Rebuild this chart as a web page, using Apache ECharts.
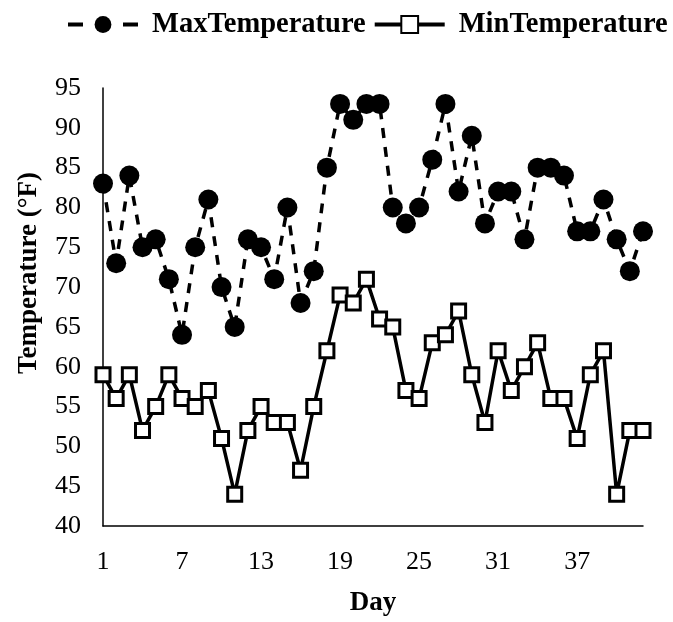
<!DOCTYPE html>
<html><head><meta charset="utf-8">
<script src="https://cdn.jsdelivr.net/npm/echarts@6/dist/echarts.min.js"></script>
<style>html,body{margin:0;padding:0;background:#fff}#c{width:673px;height:622px}</style>
</head><body><div id="c"></div>
<script>
const days = Array.from({length:42},(_,i)=>String(i+1));
const maxTemp = [83,73,84,75,76,71,64,75,81,70,65,76,75,71,80,68,72,85,93,91,93,93,80,78,80,86,93,82,89,78,82,82,76,85,85,84,77,77,81,76,72,77];
const minTemp = [59,56,59,52,55,59,56,55,57,51,44,52,55,53,53,47,55,62,69,68,71,66,65,57,56,63,64,67,59,53,62,57,60,63,56,56,51,59,62,44,52,52];
const font = 'Liberation Serif, Times New Roman, serif';
const chart = echarts.init(document.getElementById('c'));
chart.setOption({
  animation:false,
  legend:{
    top:10, left:66, width:607, padding:0, itemGap:7, itemWidth:70, itemHeight:21,
    textStyle:{fontFamily:font, fontWeight:'bold', fontSize:28.5, color:'#000', padding:[0,0,0,9]},
    data:[
      {name:'MaxTemperature', lineStyle:{type:[15,40], width:4}},
      {name:'MinTemperature', lineStyle:{width:4}}
    ]
  },
  grid:{left:103, right:30, top:88, bottom:88},
  xAxis:{
    type:'category', data:days, boundaryGap:false,
    name:'Day', nameLocation:'middle', nameGap:64,
    nameTextStyle:{fontFamily:font, fontWeight:'bold', fontSize:27, color:'#000'},
    axisLine:{lineStyle:{color:'#000', width:1.5}},
    axisTick:{show:false},
    axisLabel:{interval:5, fontFamily:font, fontSize:26, color:'#000', margin:23},
    splitLine:{show:false}
  },
  yAxis:{
    type:'value', min:40, max:95, interval:5,
    name:'Temperature (°F)', nameLocation:'middle', nameGap:60,
    nameTextStyle:{fontFamily:font, fontWeight:'bold', fontSize:27, color:'#000', padding:[0,0,0,68]},
    axisLine:{show:true, lineStyle:{color:'#000', width:1.5}},
    axisTick:{show:false},
    axisLabel:{fontFamily:font, fontSize:26, color:'#000', margin:22},
    splitLine:{show:false}
  },
  series:[
    {name:'MaxTemperature', type:'line', data:maxTemp,
     symbol:'circle', symbolSize:20, showAllSymbol:true,
     itemStyle:{color:'#000'},
     lineStyle:{color:'#000', width:3.5, type:[10,9]}},
    {name:'MinTemperature', type:'line', data:minTemp,
     symbol:'rect', symbolSize:14, showAllSymbol:true,
     itemStyle:{color:'#fff', borderColor:'#000', borderWidth:3},
     lineStyle:{color:'#000', width:3.5}}
  ]
});
</script></body></html>
